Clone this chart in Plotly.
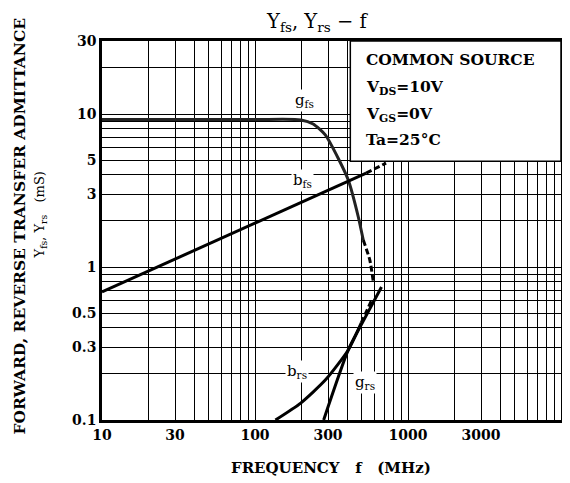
import numpy as np
import plotly.graph_objects as go

# ---- data ----
gfs_f = [10, 100, 200, 240, 288, 351, 407, 473, 510]
gfs_v = [9.2, 9.2, 9.15, 8.6, 7.3, 5.1, 3.7, 2.13, 1.5]
gfs_dash_f = [510, 563, 593]
gfs_dash_v = [1.5, 1.11, 0.80]

bfs_f = [10, 533]
bfs_v = [0.687, 4.11]
bfs_dash_f = [533, 719]
bfs_dash_v = [4.11, 4.78]

brs_f = [136, 199, 289, 407, 495]
brs_v = [0.1, 0.129, 0.183, 0.287, 0.431]
brs_dash_f = [495, 575]
brs_dash_v = [0.431, 0.60]

grs_f = [281, 407, 520, 671]
grs_v = [0.1, 0.287, 0.46, 0.74]

x_ticks = [10, 30, 100, 300, 1000, 3000]
x_ticktext = ["10", "30", "100", "300", "1000", "3000"]
y_ticks = [0.1, 0.3, 0.5, 1, 3, 5, 10, 30]
y_ticktext = ["0.1", "0.3", "0.5", "1", "3", "5", "10", "30"]
x_grid = [m * d for d in (10, 100, 1000) for m in range(1, 10)] + [10000]
y_grid = [m * d for d in (0.1, 1, 10) for m in range(1, 10)]

curve_labels = [
    ("g<sub>fs</sub>", 211, 12.3),
    ("b<sub>fs</sub>", 205, 3.7),
    ("b<sub>rs</sub>", 187, 0.206),
    ("g<sub>rs</sub>", 526, 0.177),
]
cond_lines = ["COMMON SOURCE", "V<sub>DS</sub>=10V", "V<sub>GS</sub>=0V", "Ta=25°C"]

FONT = "DejaVu Serif"
fig = go.Figure()

def add_line(xs, ys, dash="solid", color="black"):
    fig.add_trace(go.Scatter(x=xs, y=ys, mode="lines",
                             line=dict(color=color, width=3, dash=dash, shape="spline", smoothing=0.6),
                             showlegend=False, hoverinfo="skip"))

add_line(gfs_f, gfs_v, color="#222")
add_line(gfs_dash_f, gfs_dash_v, dash="6px,3px")
add_line(bfs_f, bfs_v)
add_line(bfs_dash_f, bfs_dash_v, dash="6px,3px")
add_line(brs_f, brs_v)
add_line(brs_dash_f, brs_dash_v, dash="6px,3px")
add_line(grs_f, grs_v)

for txt, f, v in curve_labels:
    fig.add_annotation(x=np.log10(f), y=np.log10(v), xref="x", yref="y", text=txt,
                       showarrow=False, bgcolor="white", xanchor="center", yanchor="middle",
                       font=dict(family=FONT, size=15, color="black"))

# condition box
fig.add_shape(type="rect", xref="paper", yref="paper", x0=0.541, x1=1.0, y0=0.683, y1=1.0,
              fillcolor="white", line=dict(color="black", width=1.5), layer="above")
for txt, yp in zip(cond_lines, [0.950, 0.876, 0.807, 0.739]):
    fig.add_annotation(x=0.571, y=yp, xref="paper", yref="paper", text="<b>" + txt + "</b>",
                       showarrow=False, xanchor="left", yanchor="middle",
                       font=dict(family=FONT, size=15.5, color="black"))

# title
fig.add_annotation(x=(318 - 102) / 462, y=(420 - 22) / 379, xref="paper", yref="paper",
                   text="Y<sub>fs</sub>, Y<sub>rs</sub> − f", showarrow=False,
                   xanchor="center", yanchor="middle",
                   font=dict(family=FONT, size=19.5, color="black"))

# page body has an 8px margin: plot area sits at x 102-564, y 41-420 on screen
fig.update_layout(
    width=562, height=475,
    margin=dict(l=94, r=6, t=33, b=63),
    paper_bgcolor="white", plot_bgcolor="white",
    font=dict(family=FONT, color="black"),
)

fig.update_xaxes(type="log", range=[1, 4], tickvals=x_ticks, ticktext=["<b>%s</b>" % t for t in x_ticktext],
                 ticks="", showgrid=True, gridcolor="black", gridwidth=1.2,
                 minor=dict(tickvals=x_grid, showgrid=True, gridcolor="black", gridwidth=1.2, ticks=""),
                 showline=True, mirror=True, linecolor="black", linewidth=2.5,
                 tickfont=dict(family=FONT, size=14, color="black"))
fig.update_yaxes(type="log", range=[-1, np.log10(30)], tickvals=y_ticks, ticktext=["<b>%s</b>" % t for t in y_ticktext],
                 ticks="", showgrid=True, gridcolor="black", gridwidth=1.2,
                 minor=dict(tickvals=y_grid, showgrid=True, gridcolor="black", gridwidth=1.2, ticks=""),
                 showline=True, mirror=True, linecolor="black", linewidth=2.5,
                 tickfont=dict(family=FONT, size=14, color="black"))

# x axis title
fig.add_annotation(x=(332 - 102) / 462, y=(420 - 468) / 379, xref="paper", yref="paper",
                   text="<b>FREQUENCY   f   (MHz)</b>", showarrow=False,
                   xanchor="center", yanchor="middle",
                   font=dict(family=FONT, size=15, color="black"))
# y axis title (two lines)
fig.add_annotation(x=(18 - 102) / 462, y=(420 - 226) / 379, xref="paper", yref="paper",
                   text="<b>FORWARD, REVERSE TRANSFER ADMITTANCE</b>", textangle=-90, showarrow=False,
                   xanchor="center", yanchor="middle",
                   font=dict(family=FONT, size=15.5, color="black"))
fig.add_annotation(x=(40 - 102) / 462, y=(420 - 215) / 379, xref="paper", yref="paper",
                   text="Y<sub>fs</sub>, Y<sub>rs</sub>   (mS)", textangle=-90, showarrow=False,
                   xanchor="center", yanchor="middle",
                   font=dict(family=FONT, size=13, color="black"))

fig.write_html("out.html")
